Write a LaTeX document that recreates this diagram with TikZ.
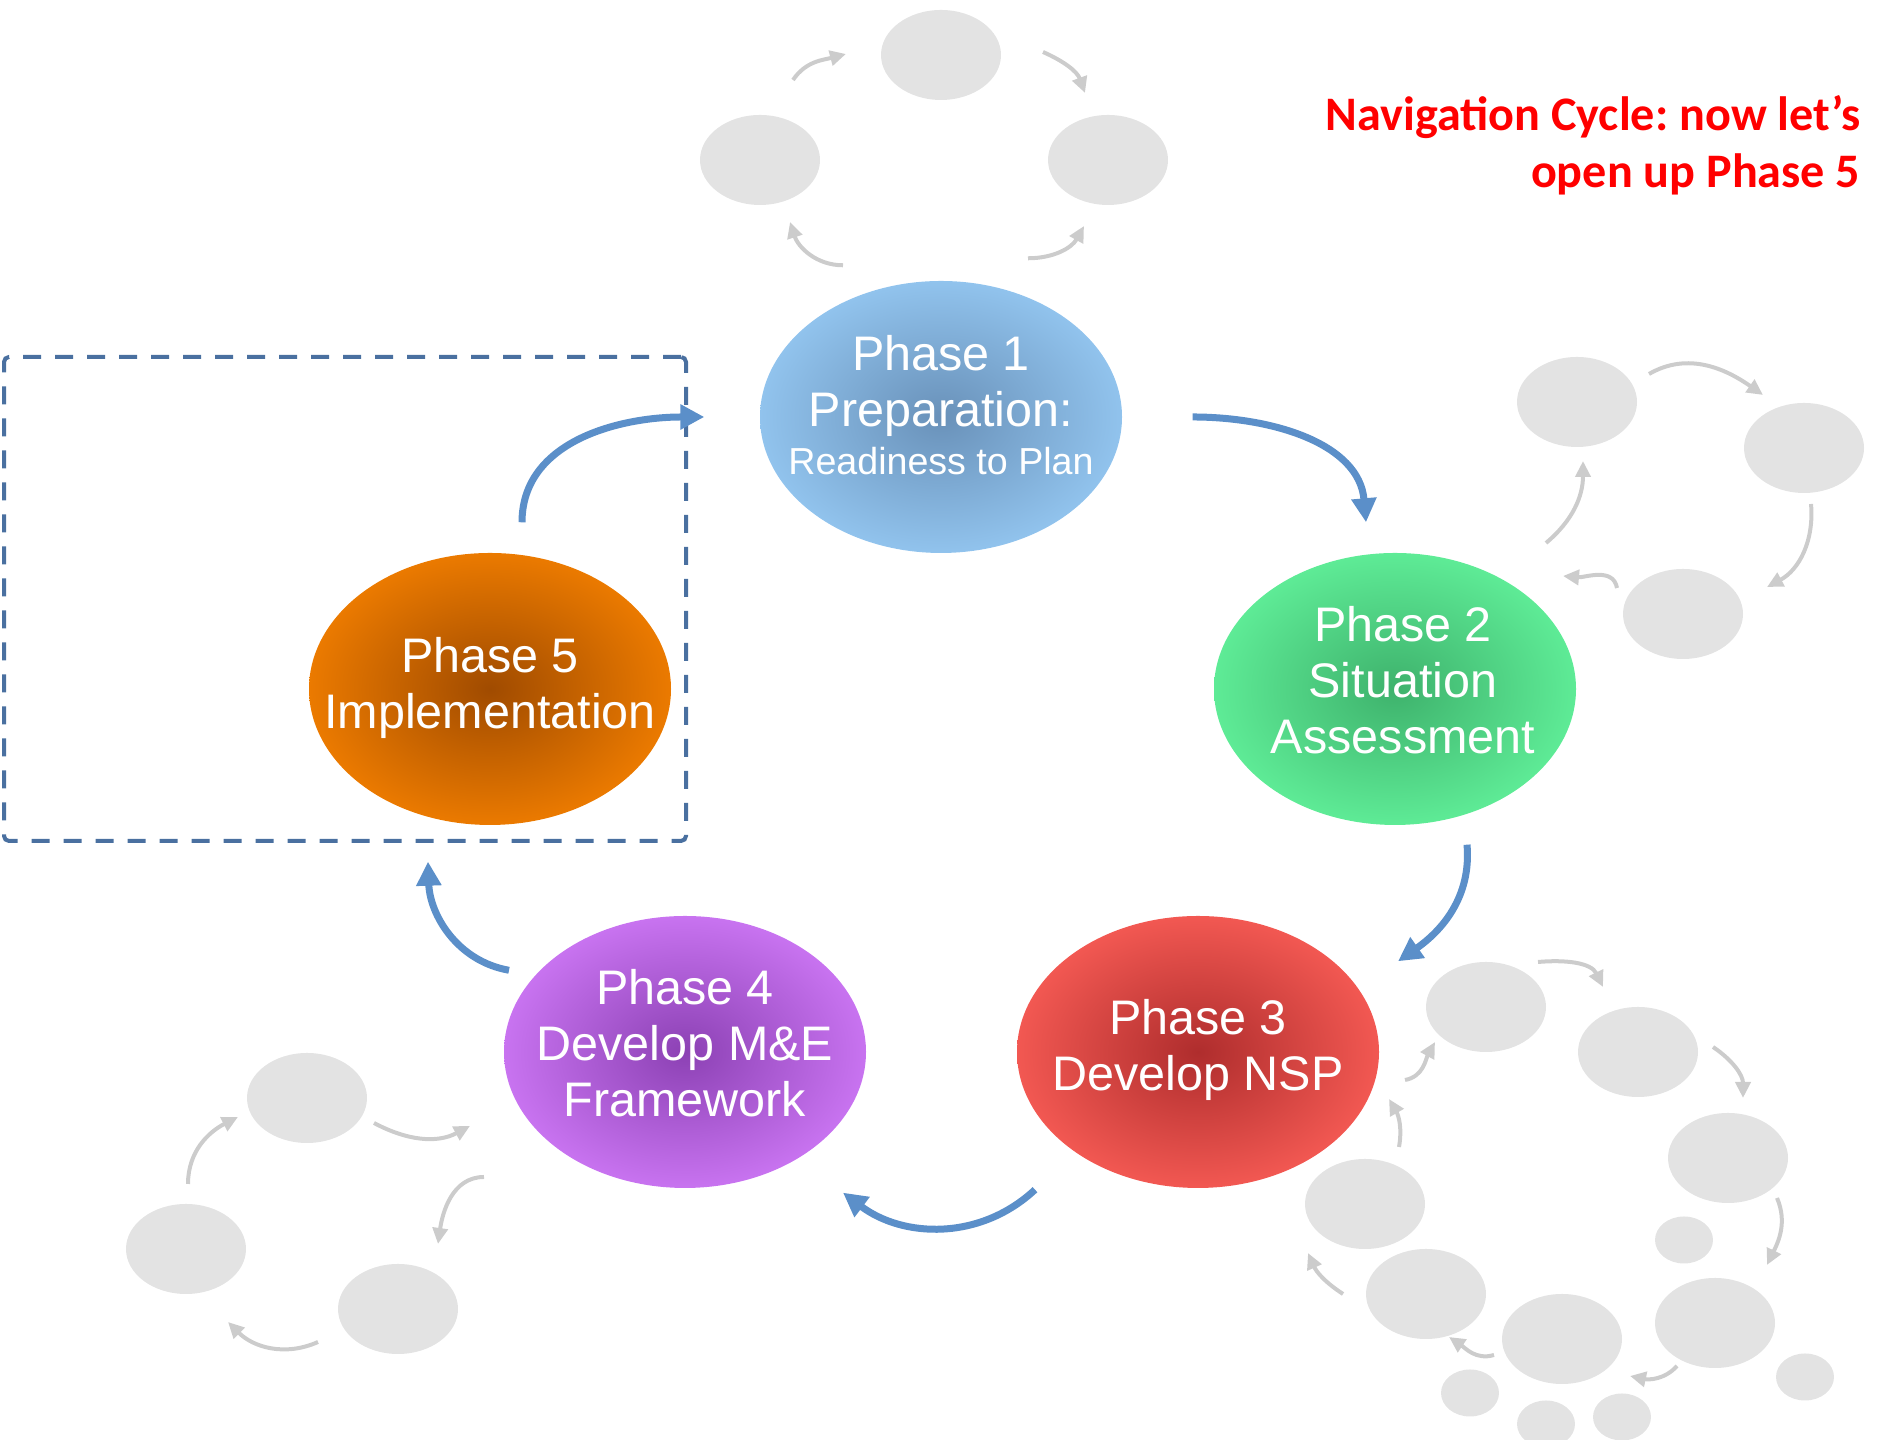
\documentclass[tikz,border=0pt]{standalone}
\usepackage{fontspec}
\setmainfont{Liberation Sans}
\newfontfamily\titlefont{Carlito}
\usepackage{tikz}
\usetikzlibrary{arrows.meta}
\usetikzlibrary{calc}
\usetikzlibrary{shapes.geometric}

\definecolor{flowblue}{RGB}{91,143,201}
\definecolor{frameblue}{RGB}{74,112,160}
\definecolor{spotgray}{RGB}{227,227,227}
\definecolor{hintgray}{RGB}{204,204,204}
\definecolor{titlered}{RGB}{255,0,0}

\frenchspacing

\begin{document}
\begin{tikzpicture}
[
	x = 0.1mm, y = 0.1mm,
	phase/.style	= {ellipse, minimum width = 3.62cm, minimum height = 2.72cm, inner sep = 0cm},
	caption/.style	= {text = white, align = center, inner sep = 0cm, font = \fontsize{13.8}{16}\selectfont},
	spot/.style	= {ellipse, fill = spotgray, minimum width = 1.2cm, minimum height = 0.9cm, inner sep = 0cm},
	dot/.style	= {spot, minimum width = 0.58cm, minimum height = 0.47cm},
	frame/.style	= {rectangle, draw = frameblue, line width = 0.4mm, dash pattern = on 1.8mm off 1.4mm, rounded corners = 0.5mm, minimum width = 6.82cm, minimum height = 4.84cm},
	flow/.style	= {-{Triangle[length = 2.4mm, width = 2.4mm]}, draw = flowblue, line width = 0.7mm},
	hint/.style	= {-{Triangle[length = 1.6mm, width = 1.5mm]}, draw = hintgray, line width = 0.4mm},
]

	\useasboundingbox (0,0) rectangle (1883,1440);
	\clip (0,0) rectangle (1883,1440);

	\node (title) [anchor = east, align = right, inner sep = 0cm, text = titlered, font = \titlefont\bfseries\fontsize{13.7}{16.2}\selectfont] at (1861,1295) {Navigation Cycle: now let’s\\open up Phase 5};

	\node (focus) [frame] at (345,841) {};

	\node (p1) [phase, inner color = {rgb,255:red,105;green,145;blue,185}, outer color = {rgb,255:red,145;green,195;blue,237}] at (941,1023) {};
	\node (p2) [phase, inner color = {rgb,255:red,62;green,178;blue,108}, outer color = {rgb,255:red,94;green,235;blue,150}] at (1395,751) {};
	\node (p3) [phase, inner color = {rgb,255:red,175;green,45;blue,45}, outer color = {rgb,255:red,242;green,88;blue,82}] at (1198,388) {};
	\node (p4) [phase, inner color = {rgb,255:red,140;green,65;blue,180}, outer color = {rgb,255:red,200;green,115;blue,240}] at (685,388) {};
	\node (p5) [phase, inner color = {rgb,255:red,160;green,75;blue,0}, outer color = {rgb,255:red,235;green,122;blue,0}] at (490,751) {};
	%
	\node (p1text) [caption, yshift = 1.2mm] at (p1) {Phase 1\\Preparation:\\[-2.4pt]{\fontsize{10.7}{13}\selectfont Readiness to Plan}};
	\node (p2text) [caption, xshift = 0.8mm, yshift = 0.9mm] at (p2) {Phase 2\\Situation\\Assessment};
	\node (p3text) [caption, yshift = 0.2mm] at (p3) {Phase 3\\Develop NSP};
	\node (p4text) [caption, yshift = 0.9mm] at (p4) {Phase 4\\Develop M\&E\\Framework};
	\node (p5text) [caption, yshift = 0.1mm] at (p5) {Phase 5\\Implementation};

	% cycle
	\draw [flow] ($(p1.east)+(70,0)$) to [out = 0, in = 95] ($(p2.north)+(-29,30)$);
	\draw [flow] ($(p2.south)+(72,-19)$) to [out = -85, in = 35] ($(p3.north)+(200,-46)$);
	\draw [flow] ($(p3.south)+(-163,-1)$) to [out = -137, in = -37] ($(p4.south)+(158,-4)$);
	\draw [flow] ($(p4.north)+(-176,-55)$) to [out = 170, in = -88] ($(p5.south)+(-62,-36)$);
	\draw [flow] ($(p5.north)+(32,30)$) to [out = 90, in = 180] ($(p1.west)+(-55,0)$);

	% top spots
	\node (t1) [spot] at (760,1280) {};
	\node (t2) [spot] at (941,1385) {};
	\node (t3) [spot] at (1108,1280) {};
	%
	\draw [hint] ($(t1)+(33,80)$) to [out = 56, in = 195] ($(t2)+(-95,1)$);
	\draw [hint] ($(t2)+(102,3)$) to [out = -24, in = 110] ($(t3)+(-23,67)$);
	\draw [hint] ($(p1.north)+(87,22)$) to [out = 0, in = 241] ($(t3)+(-24,-66)$);
	\draw [hint] ($(p1.north)+(-98,15)$) to [out = 180, in = -72] ($(t1)+(30,-62)$);

	% right spots
	\node (r1) [spot] at (1577,1038) {};
	\node (r2) [spot] at (1804,992) {};
	\node (r3) [spot] at (1683,826) {};
	%
	\draw [hint] ($(r1)+(72,28)$) to [out = 30, in = 145] ($(r2)+(-41,53)$);
	\draw [hint] ($(r2)+(7,-56)$) to [out = -85, in = 28] ($(r3)+(84,27)$);
	\draw [hint] ($(r3)+(-66,26)$) to [out = 100, in = -5] ($(r3)+(-120,38)$);
	\draw [hint] ($(r3)+(-137,71)$) to [out = 40, in = -90] ($(r1)+(6,-59)$);

	% left spots
	\node (l1) [spot] at (307,342) {};
	\node (l2) [spot] at (186,191) {};
	\node (l3) [spot] at (398,131) {};
	%
	\draw [hint] ($(l1)+(67,-25)$) to [out = -28, in = -152] ($(l1)+(163,-28)$);
	\draw [hint] ($(l3)+(86,132)$) to [out = 180, in = 82] ($(l3)+(40,65)$);
	\draw [hint] ($(l3)+(-80,-33)$) to [out = 204, in = -45] ($(l2)+(42,-73)$);
	\draw [hint] ($(l2)+(2,65)$) to [out = 90, in = -153] ($(l1)+(-69,-19)$);

	% bottom spots
	\node (b1) [spot] at (1486,433) {};
	\node (b2) [spot] at (1638,388) {};
	\node (b3) [spot] at (1728,282) {};
	\node (b4) [dot] at (1684,200) {};
	\node (b5) [spot] at (1715,117) {};
	\node (b6) [dot] at (1805,63) {};
	\node (b7) [spot] at (1562,101) {};
	\node (b8) [dot] at (1622,23) {};
	\node (b9) [dot] at (1546,16) {};
	\node (b10) [dot] at (1470,47) {};
	\node (b11) [spot] at (1426,146) {};
	\node (b12) [spot] at (1365,236) {};
	%
	\draw [hint] ($(b1)+(52,45)$) to [out = 5, in = 116] ($(b2)+(-35,65)$);
	\draw [hint] ($(b2)+(75,5)$) to [out = -34, in = 90] ($(b3)+(15,60)$);
	\draw [hint] ($(b3)+(49,-40)$) to [out = -67, in = 64] ($(b5)+(52,58)$);
	\draw [hint] ($(b5)+(-38,-43)$) to [out = 228, in = -12] ($(b7)+(68,-37)$);
	\draw [hint] ($(b7)+(-68,-16)$) to [out = 197, in = -34] ($(b11)+(23,-43)$);
	\draw [hint] ($(b11)+(-83,0)$) to [out = 147, in = -66] ($(b12)+(-57,-49)$);
	\draw [hint] ($(b12)+(34,57)$) to [out = 80, in = -60] ($(b12)+(24,105)$);
	\draw [hint] ($(b12)+(40,124)$) to [out = 10, in = -119] ($(b1)+(-51,-35)$);

\end{tikzpicture}
\end{document}
